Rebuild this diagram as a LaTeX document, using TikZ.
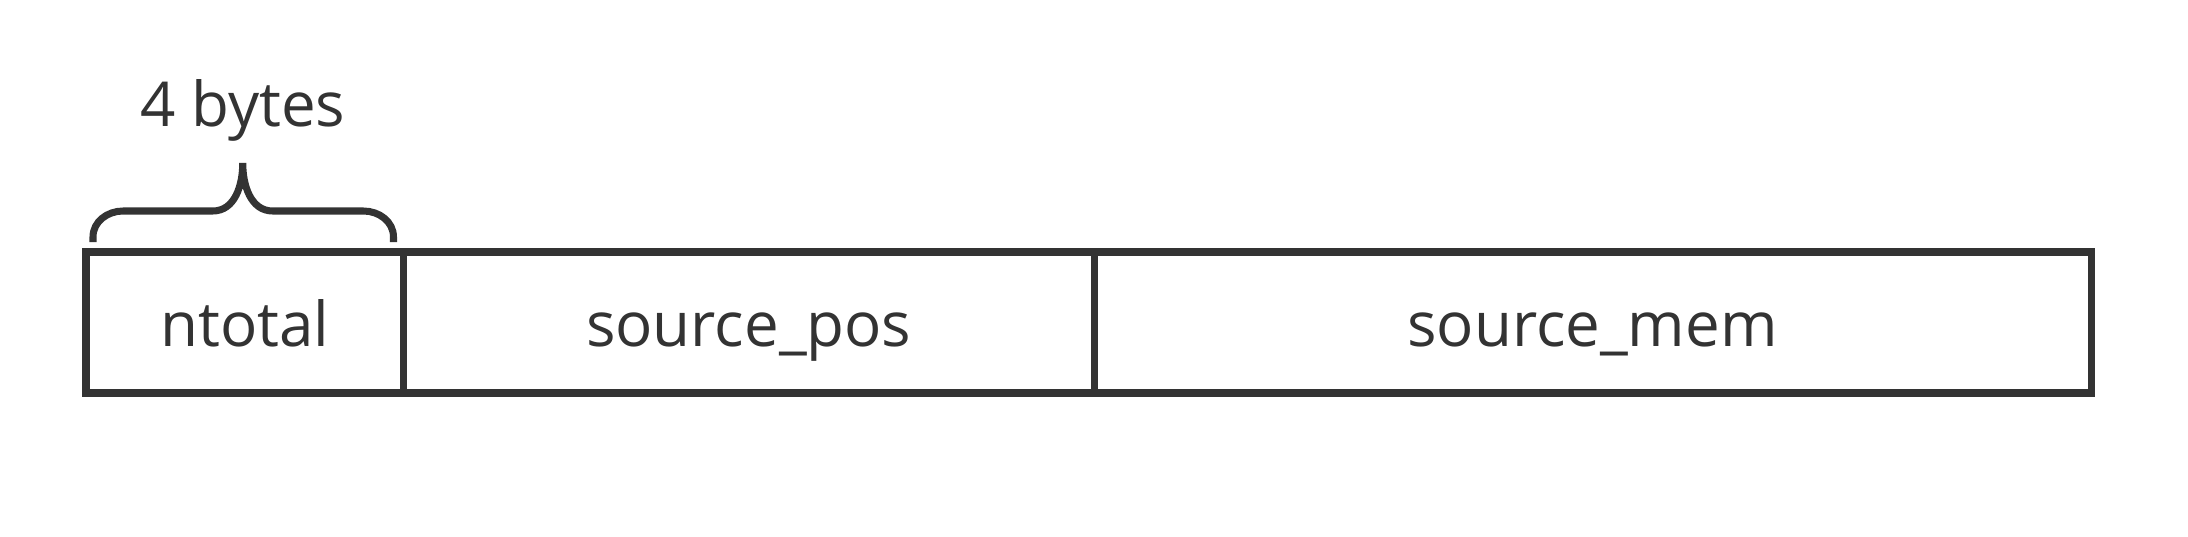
\documentclass[tikz,border=0pt]{standalone}
\usepackage{fontspec}
\setmainfont{Open Sans}
\usepackage{tikz}
\usetikzlibrary{positioning,calc}

\definecolor{ink}{HTML}{333333}
\tikzset{
    field/.style={draw=ink, line width=2pt, minimum height=1.41cm, inner sep=0pt, outer sep=0pt,
                  text=ink, font=\fontsize{17.6}{20}\selectfont, text height=0.47cm, text depth=0pt},
    bracepath/.style={draw=ink, line width=2pt},
    bracelabel/.style={text=ink, font=\fontsize{17.6}{20}\selectfont, inner sep=0pt, anchor=base}
}

\begin{document}
\begin{tikzpicture}
    \def \minx {0.86}
    \def \topy {2.84}

    \useasboundingbox (0,0) rectangle (21.88,5.36);

    % the three fields
    \node[field, minimum width=3.175cm, anchor=north west] (ntotal) at (\minx,\topy) {ntotal};
    \node[field, minimum width=6.905cm, right=0pt of ntotal] (pos) {source\_pos};
    \node[field, minimum width=9.97cm, right=0pt of pos] (mem) {source\_mem};

    % brace over ntotal
    \coordinate (bl) at ($(ntotal.north west)+(0.07,0.10)$);
    \coordinate (br) at ($(ntotal.north east)+(-0.10,0.10)$);
    \coordinate (tip) at ($(ntotal.north)+(-0.02,0.89)$);
    \draw[bracepath] (bl) -- ++(0,0.05) to[out=90,in=180] ($(bl)+(0.30,0.31)$)
        -- ($(tip)+(-0.30,-0.48)$) to[out=0,in=270] (tip)
        to[out=270,in=180] ($(tip)+(0.30,-0.48)$)
        -- ($(br)+(-0.30,0.31)$) to[out=0,in=90] ($(br)+(0,0.05)$) -- (br);

    \node[bracelabel] (bytes) at ($(tip)+(0,0.37)$) {4 bytes};
\end{tikzpicture}
\end{document}
